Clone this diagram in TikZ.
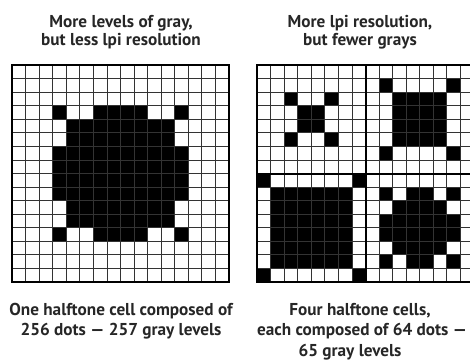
\documentclass[tikz,border=0pt]{standalone}
\usepackage{fontspec}
\setmainfont{PT Sans}
\begin{document}
\begin{tikzpicture}[x=1pt,y=-1pt,
  lbl/.style={font=\fontsize{17.2}{20}\selectfont\bfseries, text=black!85, align=center, inner sep=0pt, anchor=base},
  thin/.style={line width=0.8pt, draw=black!80},
  frame/.style={line width=2pt, draw=black},
  dot/.style={fill=black}]
\useasboundingbox (0,0) rectangle (470,360);
\clip (0,0) rectangle (470,360);
\def\s{13.5625}
% ---------- left grid (origin 12,65) ----------
\begin{scope}[shift={(12,65)}]
  \foreach \r in {3,12}{\foreach \c in {3,6,7,8,9,12}{\fill[dot] (\c*\s,\r*\s) rectangle ++(\s,\s);}}
  \foreach \r in {4,5,10,11}{\foreach \c in {4,...,11}{\fill[dot] (\c*\s,\r*\s) rectangle ++(\s,\s);}}
  \foreach \r in {6,...,9}{\foreach \c in {3,...,12}{\fill[dot] (\c*\s,\r*\s) rectangle ++(\s,\s);}}
  \foreach \i in {1,...,15}{
    \draw[thin] (\i*\s,0) -- (\i*\s,16*\s);
    \draw[thin] (0,\i*\s) -- (16*\s,\i*\s);}
  \draw[frame] (0,0) rectangle (16*\s,16*\s);
\end{scope}
% ---------- right grid (origin 257,65) ----------
\begin{scope}[shift={(257,65)}]
  % top-left quadrant
  \foreach \r/\c in {2/2,2/5,3/3,3/4,4/3,4/4,5/2,5/5}{\fill[dot] (\c*\s,\r*\s) rectangle ++(\s,\s);}
  % top-right quadrant
  \foreach \r in {1,6}{\foreach \c in {9,14}{\fill[dot] (\c*\s,\r*\s) rectangle ++(\s,\s);}}
  \foreach \r in {2,...,5}{\foreach \c in {10,...,13}{\fill[dot] (\c*\s,\r*\s) rectangle ++(\s,\s);}}
  % bottom-left quadrant
  \foreach \r in {8,15}{\foreach \c in {0,7}{\fill[dot] (\c*\s,\r*\s) rectangle ++(\s,\s);}}
  \foreach \r in {9,...,14}{\foreach \c in {1,...,6}{\fill[dot] (\c*\s,\r*\s) rectangle ++(\s,\s);}}
  % bottom-right quadrant
  \foreach \r in {9,14}{\foreach \c in {9,11,12,14}{\fill[dot] (\c*\s,\r*\s) rectangle ++(\s,\s);}}
  \foreach \r in {10,13}{\foreach \c in {10,...,13}{\fill[dot] (\c*\s,\r*\s) rectangle ++(\s,\s);}}
  \foreach \r in {11,12}{\foreach \c in {9,...,14}{\fill[dot] (\c*\s,\r*\s) rectangle ++(\s,\s);}}
  \foreach \i in {1,...,15}{
    \draw[thin] (\i*\s,0) -- (\i*\s,16*\s);
    \draw[thin] (0,\i*\s) -- (16*\s,\i*\s);}
  \draw[frame] (8*\s,0) -- (8*\s,16*\s);
  \draw[frame] (0,8*\s) -- (16*\s,8*\s);
  \draw[frame] (0,0) rectangle (16*\s,16*\s);
\end{scope}
% ---------- labels ----------
\node[lbl] (hl1) at (121,27) {More levels of gray,};
\node[lbl] (hl2) at (121,45) {but less lpi resolution};
\node[lbl] (hr1) at (360,27) {More lpi resolution,};
\node[lbl] (hr2) at (360,45) {but fewer grays};
\node[lbl] (bl1) at (121,315) {One halftone cell composed of};
\node[lbl] (bl2) at (121,335.5) {256 dots — 257 gray levels};
\node[lbl] (br1) at (360,315) {Four halftone cells,};
\node[lbl] (br2) at (362,335.5) {each composed of 64 dots —};
\node[lbl] (br3) at (350,356) {65 gray levels};
\end{tikzpicture}
\end{document}
